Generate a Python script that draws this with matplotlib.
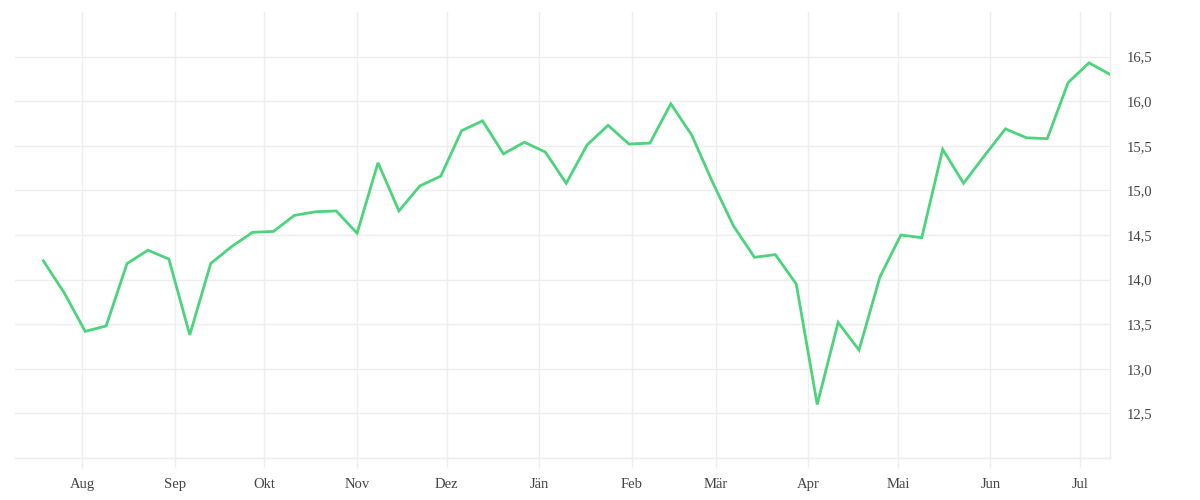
import matplotlib
matplotlib.use("Agg")
import matplotlib.pyplot as plt
import pandas as pd

# Weekly dates (52 points)
dates = pd.date_range("2018-07-19", periods=52, freq="7D")
values = [14.21, 13.85, 13.42, 13.48, 14.18, 14.33, 14.23, 13.38, 14.18, 14.37,
          14.53, 14.54, 14.72, 14.76, 14.77, 14.52, 15.31, 14.77, 15.05, 15.16,
          15.67, 15.78, 15.41, 15.54, 15.43, 15.08, 15.51, 15.73, 15.52, 15.53,
          15.97, 15.62, 15.09, 14.60, 14.25, 14.28, 13.95, 12.60, 13.52, 13.21,
          14.03, 14.50, 14.47, 15.46, 15.08, 15.39, 15.69, 15.59, 15.58, 16.21,
          16.43, 16.30]
month_labels = ["Aug", "Sep", "Okt", "Nov", "Dez", "Jän", "Feb", "Mär", "Apr",
                "Mai", "Jun", "Jul"]
month_starts = pd.date_range("2018-08-01", periods=12, freq="MS")
y_ticks = [12.0, 12.5, 13.0, 13.5, 14.0, 14.5, 15.0, 15.5, 16.0, 16.5]
y_labels = ["", "12,5", "13,0", "13,5", "14,0", "14,5", "15,0", "15,5", "16,0", "16,5"]

grid_c = "#eeeeee"
text_c = "#444444"

fig = plt.figure(figsize=(12, 5), dpi=100)
ax = fig.add_axes([15/1200, 1 - 458/500, (1110-15)/1200, (458-12)/500])

ax.plot(dates, values, color="#4cd47c", linewidth=2.0, solid_joinstyle="miter", zorder=3)

ax.set_xlim(dates[0] - pd.Timedelta(days=9.5), dates[-1])
ax.set_ylim(12.0, 17.0)

ax.set_xticks(month_starts)
ax.set_xticklabels(month_labels)
ax.set_yticks(y_ticks)
ax.set_yticklabels(y_labels)

ax.yaxis.tick_right()
ax.grid(True, color=grid_c, linewidth=1.0, zorder=0)
for s in ["top", "left"]:
    ax.spines[s].set_visible(False)
ax.spines["bottom"].set_color(grid_c)
ax.spines["right"].set_color(grid_c)
ax.spines["bottom"].set_linewidth(1.0)
ax.spines["right"].set_linewidth(1.0)

ax.tick_params(axis="x", length=7.2, width=1.0, color=grid_c, pad=7.5,
               labelsize=10.5, labelcolor=text_c)
ax.tick_params(axis="y", length=0, pad=12, labelsize=10.5, labelcolor=text_c)
for lab in ax.get_xticklabels() + ax.get_yticklabels():
    lab.set_family("Liberation Serif")

fig.savefig("out.png", dpi=100)
